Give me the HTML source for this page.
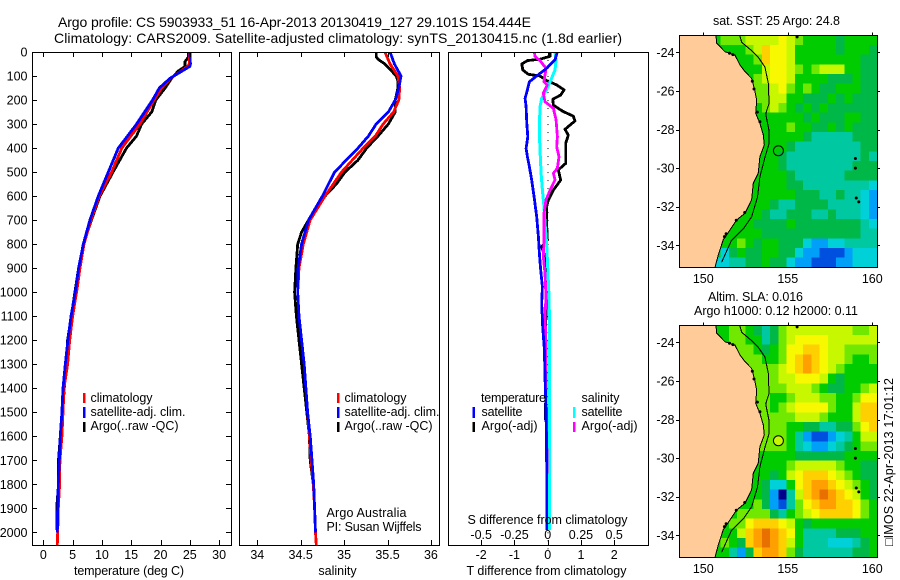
<!DOCTYPE html>
<html>
<head>
<meta charset="utf-8">
<title>Argo profile</title>
<style>
html,body{margin:0;padding:0;background:#fff;}
svg{display:block;font-family:"Liberation Sans",sans-serif;font-size:12.5px;fill:#000;}
</style>
</head>
<body>
<svg id="chart" width="900" height="580" viewBox="0 0 900 580" xmlns="http://www.w3.org/2000/svg">
<defs>
<clipPath id="clip-temp"><rect x="32" y="52" width="199" height="493"/></clipPath>
<clipPath id="clip-sal"><rect x="239" y="52" width="200" height="493"/></clipPath>
<clipPath id="clip-diff"><rect x="448" y="52" width="200" height="493"/></clipPath>
<clipPath id="clip-map1"><rect x="679" y="35" width="198" height="232"/></clipPath>
<clipPath id="clip-map2"><rect x="679" y="325" width="198" height="232"/></clipPath>
</defs>
<text x="58" y="27" font-size="14" textLength="473" lengthAdjust="spacing">Argo profile: CS 5903933_51 16-Apr-2013 20130419_127 29.101S 154.444E</text>
<text x="54" y="43" font-size="14" textLength="568" lengthAdjust="spacing">Climatology: CARS2009. Satellite-adjusted climatology: synTS_20130415.nc (1.8d earlier)</text>
<g id="temp-panel"></g>
<g id="sal-panel"></g>
<g id="diff-panel"></g>
<g id="map1"></g>
<g id="map2"></g>

<text x="129" y="575" text-anchor="middle" textLength="110" lengthAdjust="spacing">temperature (deg C)</text>
<text x="337.5" y="575" text-anchor="middle">salinity</text>
<text x="466.5" y="575" textLength="160" lengthAdjust="spacing">T difference from climatology</text>
<text x="467.5" y="524" textLength="160" lengthAdjust="spacing">S difference from climatology</text>

<g>
<rect x="83" y="393" width="2.5" height="10" fill="#f00"/>
<rect x="83" y="407" width="2.5" height="11" fill="#00f"/>
<rect x="83" y="422" width="2.5" height="10" fill="#000"/>
<text x="90.5" y="402" textLength="62" lengthAdjust="spacing">climatology</text>
<text x="90.5" y="416" textLength="95" lengthAdjust="spacing">satellite-adj. clim.</text>
<text x="90.5" y="430" textLength="88" lengthAdjust="spacing">Argo(..raw -QC)</text>
</g>
<g>
<rect x="337" y="393" width="2.5" height="10" fill="#f00"/>
<rect x="337" y="407" width="2.5" height="11" fill="#00f"/>
<rect x="337" y="422" width="2.5" height="10" fill="#000"/>
<text x="344.5" y="402" textLength="62" lengthAdjust="spacing">climatology</text>
<text x="344.5" y="416" textLength="95" lengthAdjust="spacing">satellite-adj. clim.</text>
<text x="344.5" y="430" textLength="88" lengthAdjust="spacing">Argo(..raw -QC)</text>
<text x="326.5" y="517" textLength="80" lengthAdjust="spacing">Argo Australia</text>
<text x="326.5" y="531" textLength="95" lengthAdjust="spacing">PI: Susan Wijffels</text>
</g>
<g>
<text x="481" y="402" textLength="65" lengthAdjust="spacing">temperature</text>
<rect x="472.5" y="407" width="2.5" height="11" fill="#00f"/>
<rect x="472.5" y="422" width="2.5" height="10" fill="#000"/>
<text x="481.5" y="416" textLength="41" lengthAdjust="spacing">satellite</text>
<text x="481.5" y="430" textLength="56" lengthAdjust="spacing">Argo(-adj)</text>
<text x="581.5" y="402" textLength="38" lengthAdjust="spacing">salinity</text>
<rect x="573" y="407" width="2.5" height="11" fill="#0ff"/>
<rect x="573" y="422" width="2.5" height="10" fill="#f0f"/>
<text x="581.5" y="416" textLength="41" lengthAdjust="spacing">satellite</text>
<text x="581.5" y="430" textLength="56" lengthAdjust="spacing">Argo(-adj)</text>
</g>

<text x="713" y="25" textLength="127" lengthAdjust="spacing">sat. SST: 25 Argo: 24.8</text>
<text x="708" y="301" textLength="95" lengthAdjust="spacing">Altim. SLA: 0.016</text>
<text x="694" y="315" textLength="164" lengthAdjust="spacing">Argo h1000: 0.12 h2000: 0.11</text>
<text transform="translate(893,546) rotate(-90)" textLength="168" lengthAdjust="spacing">&#9633;IMOS 22-Apr-2013 17:01:12</text>
</svg>

<script>
/* ---------- depth profile data ---------- */
const depthTicks = [0,100,200,300,400,500,600,700,800,900,1000,1100,1200,1300,1400,1500,1600,1700,1800,1900,2000];
const tempTicks = [0,5,10,15,20,25,30];
const salTicks = [34,34.5,35,35.5,36];
const salTickLabels = ['34','34.5','35','35.5','36'];
const tDiffTicks = [-2,-1,0,1,2];
const sDiffTicks = [-0.5,-0.25,0,0.25,0.5];
const sDiffTickLabels = ['-0.5','-0.25','0','0.25','0.5'];

const tempClimDepth = [0,50,60,80,110,150,200,300,400,500,600,700,800,900,1000,1100,1200,1300,1400,1500,1600,1700,1800,1900,2000,2053];
const tempClim = [24.9,24.9,24.6,23.5,21.7,20.2,18.9,16.5,13.4,11.66,9.56,8.13,6.94,6.26,5.69,5.0,4.5,4.15,3.53,3.36,3.18,2.84,2.79,2.56,2.45,2.39];
const tempSatDepth = [0,50,60,110,150,200,300,400,500,600,700,800,900,1000,1100,1200,1300,1400,1500,1600,1700,1800,1900,2000];
const tempSat = [25.03,25.1,25.0,21.6,19.8,18.66,15.93,12.8,11.09,9.39,7.96,6.83,6.03,5.46,4.72,4.2,3.75,3.36,3.18,2.9,2.73,2.56,2.45,2.39];
const tempArgoDepth = [0,20,40,60,80,110,150,200,250,300,350,400,500,600,700,800,900,1000,1100,1200,1300,1400,1500,1600,1700,1800,1900,1990];
const tempArgo = [24.8,24.8,24.2,24.2,23.0,21.9,20.8,19.2,18.5,16.8,15.9,14.2,11.9,9.67,8.2,6.83,6.03,5.4,4.78,4.15,3.92,3.58,3.3,2.9,2.6,2.6,2.28,2.28];

const salClimDepth = [0,50,100,150,200,250,300,350,400,500,600,700,800,900,1000,1100,1200,1300,1400,1500,1600,1700,1800,1900,2000,2053];
const salClim = [35.47,35.53,35.62,35.64,35.63,35.57,35.45,35.36,35.22,34.97,34.78,34.61,34.53,34.48,34.465,34.48,34.51,34.54,34.56,34.58,34.6,34.62,34.645,34.66,34.67,34.68];
const salSatDepth = [0,50,100,150,200,250,300,350,400,500,600,700,800,900,1000,1100,1200,1300,1400,1500,1600,1700,1800,1900,2000];
const salSat = [35.53,35.58,35.655,35.63,35.59,35.51,35.37,35.28,35.16,34.89,34.75,34.59,34.51,34.47,34.465,34.48,34.51,34.54,34.56,34.58,34.61,34.63,34.65,34.66,34.67];
const salArgoDepth = [0,20,30,50,80,100,120,150,200,250,300,350,400,450,500,550,600,700,750,800,900,1000,1100,1200,1300,1400,1500,1600,1700,1800,1900,2000];
const salArgo = [35.37,35.37,35.39,35.47,35.55,35.6,35.62,35.62,35.59,35.59,35.51,35.39,35.26,35.16,35.01,34.91,34.78,34.59,34.51,34.465,34.445,34.43,34.45,34.48,34.51,34.54,34.57,34.6,34.61,34.645,34.66,34.67];

const dTSatDepth = [0,33,68,105,124,158,193,228,297,353,401,436,478,533,603,686,769,839,908,977,1047,1144,1241,1352,1449,1588,1727,1866,1991];
const dTSat = [0.29,0.22,-0.03,-0.38,-0.55,-0.61,-0.68,-0.65,-0.63,-0.6,-0.65,-0.61,-0.55,-0.48,-0.41,-0.33,-0.28,-0.25,-0.21,-0.16,-0.18,-0.15,-0.1,-0.08,-0.06,-0.04,-0.03,-0.03,-0.03];
const dTArgoDepth = [0,18,30,36,50,75,93,100,119,137,158,179,197,221,248,267,287,322,346,380,464,491,533,575,616,644,727,783,811,852,922,1005,1102,1158,1241,1324,1449,1533];
const dTArgo = [0.07,0.07,-0.23,-0.61,-0.78,-0.75,-0.58,-0.23,-0.03,0.27,0.49,0.39,0.15,0.17,0.47,0.77,0.82,0.52,0.62,0.54,0.54,0.32,0.39,0.17,0.02,-0.03,-0.03,-0.01,-0.18,-0.08,-0.08,-0.05,-0.05,-0.07,-0.08,-0.05,-0.06,-0.07];
const dSSatDepth = [0,33,75,124,158,193,228,325,408,505,575,644,713,797,894,1019,1102,1449,1588,1991];
const dSSat = [0.055,0.063,0.055,0.018,-0.008,-0.045,-0.058,-0.063,-0.058,-0.05,-0.04,-0.028,-0.02,-0.008,0,0.01,0.0125,0.014,0.013,0.013];
const dSArgoDepth = [0,19,36,68,96,124,137,172,207,235,283,353,394,436,484,505,533,575,616,672,783,852,922,1019,1102,1213,1310,1588,1755];
const dSArgo = [-0.1,-0.095,-0.058,-0.013,-0.02,-0.028,-0.003,-0.033,-0.02,0.043,0.063,0.073,0.068,0.085,0.073,0.043,0.055,0.018,-0.013,-0.028,-0.028,-0.033,-0.02,-0.013,-0.02,-0.013,-0.013,-0.008,-0.003];

/* ---------- map data ---------- */
const lonTicks = [150,155,160];
const latTicks = [-24,-26,-28,-30,-32,-34];
const argoLon = 154.444;
const argoLat = -29.101;
/* cell values: index into the colour ramp, 24 columns by 24 rows, north to south */
const sstRows = [
"666667 778888 987666 656666","666666 6678a9 986666 656665","666666 6667a9 986666 666655","666666 666689 987678 886655",
"666666 666789 986666 555655","666666 666778 976765 566655","666666 666778 866555 656555","666666 666678 765656 555555",
"666666 666666 666565 556655","666666 666666 676655 656555","666666 666666 666544 444555","666666 666666 654444 444455",
"666666 666666 544444 444454","666666 666666 544444 444555","666666 666666 654444 445555","666666 666666 655444 444443",
"666666 666666 665554 454432","666666 666665 445555 444432","666666 666654 455544 544432","666666 666555 565555 555543",
"666666 666655 555555 555544","666666 676566 555322 334444","666663 565566 553221 112333","666633 445565 532211 122333"];
const slaRows = [
"666666 776545 788888 888778","666666 776645 789999 888888","666666 777656 799aa9 887777","666666 777766 79aba9 887667",
"666666 777777 89aba9 876666","666666 777777 889998 656666","666666 777777 788876 556678","666666 777776 678887 766799",
"666666 777776 789999 7668aa","666666 777777 778887 6668aa","666666 777777 766554 45579a","666666 777777 764211 234688",
"666666 777777 764322 345677","666666 666666 665555 556666","666666 666666 678888 876655","666666 666665 689aaa 987655",
"666666 666653 369abb a98765","666666 666652 048abc ba9865","666666 666752 1479ab baa976","666666 677775 46789a aaa976",
"666666 779aaa 986566 666666","666666 68abcb a96444 455566","666667 65abcb a86444 333456","666666 425abb a75444 444556"];
const coastLon = [150.75,150.79,151.28,151.87,152.17,152.47,152.86,153.02,153.16,153.1,153.35,153.55,153.61,153.35,153.25,152.96,152.86,152.47,151.97,151.58,151.18,150.89,150.69];
const coastLat = [-23.14,-23.53,-23.97,-24.14,-24.66,-25.0,-25.35,-25.87,-26.47,-27.16,-27.68,-28.28,-28.8,-29.41,-30.27,-30.79,-31.65,-32.34,-32.69,-33.2,-33.72,-34.5,-35.14];
const shelfLon = [152.13,152.27,152.86,153.25,153.65,153.85,153.89,153.69,153.89,153.89,153.65,153.35,153.21,152.86,152.37,151.67,151.08];
const shelfLat = [-23.05,-23.48,-23.91,-24.25,-24.77,-25.63,-26.67,-27.19,-28.05,-28.74,-29.43,-30.46,-31.5,-32.53,-33.14,-33.74,-34.88];
const islandLon = [155.55,159.0,159.0,159.05,159.2,151.55,151.75,152.9,153.0,152.45,151.95,151.25,151.35,153.35,153.2];
const islandLat = [-23.2,-29.5,-30.0,-31.55,-31.75,-24.05,-24.12,-25.5,-25.9,-32.3,-32.7,-33.55,-33.4,-27.6,-27.1];

const rampColors = {'0':'#00008c','1':'#0050e0','2':'#00a0f8','3':'#00d0d8','4':'#00c8a0','5':'#00b848','6':'#00cc00','7':'#70e800','8':'#c8f800','9':'#f8f800','a':'#ffd000','b':'#ffa000','c':'#e87000'};

/* ---------- axis functions ---------- */
const SVGNS = 'http://www.w3.org/2000/svg';
function el(tag, parent, attrs){
  const n = document.createElementNS(SVGNS, tag);
  for(const k in attrs) n.setAttribute(k, attrs[k]);
  parent.appendChild(n);
  return n;
}
const yDepth = d => 52 + d * 0.24015;
const xTemp = t => 43.3 + t * 5.86;
const xSal = s => 257.3 + (s - 34) * 86.8;
const xDT = t => 547.7 + t * 33.25;
const xDS = s => 547.7 + s * 133;
const xLon = lon => 703.3 + (lon - 150) * 16.9;
const yLatTop = lat => 52.3 + (-24 - lat) * 19.3;
const yLatBot = lat => 342.3 + (-24 - lat) * 19.3;

function drawSeries(parent, clip, xFn, depth, vals, color, width){
  let d = '';
  for(let i = 0; i < vals.length; i++) d += (i ? 'L' : 'M') + xFn(vals[i]).toFixed(1) + ' ' + yDepth(depth[i]).toFixed(1);
  return el('path', parent, {d: d, fill: 'none', stroke: color, 'stroke-width': width, 'clip-path': 'url(#' + clip + ')', 'stroke-linejoin': 'round', 'shape-rendering': 'crispEdges'});
}

function drawFrame(parent, x, y, w, h){
  return el('rect', parent, {x: x + 0.5, y: y + 0.5, width: w, height: h, fill: 'none', stroke: '#000', 'stroke-width': 1});
}
function vTick(parent, x, y1, y2){
  const X = Math.round(x) + 0.5;
  return el('line', parent, {x1: X, x2: X, y1: y1, y2: y2, stroke: '#000', 'stroke-width': 1});
}
function hTick(parent, y, x1, x2){
  const Y = Math.round(y) + 0.5;
  return el('line', parent, {x1: x1, x2: x2, y1: Y, y2: Y, stroke: '#000', 'stroke-width': 1});
}
function label(parent, x, y, str, anchor){
  const t = el('text', parent, {x: x, y: y, 'text-anchor': anchor});
  t.textContent = str;
  return t;
}

/* ---------- temperature panel ---------- */
const tempG = document.getElementById('temp-panel');
const tempArgoLine = drawSeries(tempG, 'clip-temp', xTemp, tempArgoDepth, tempArgo, '#000', 2.8);


const tempClimLine = drawSeries(tempG, 'clip-temp', xTemp, tempClimDepth, tempClim, '#f00', 2.8);


const tempSatLine = drawSeries(tempG, 'clip-temp', xTemp, tempSatDepth, tempSat, '#00f', 2.8);


const tempFrame = drawFrame(tempG, 32, 52, 199, 493);


depthTicks.forEach(d => {
  const l = hTick(tempG, yDepth(d), 32, 37);
  
  
  const r = hTick(tempG, yDepth(d), 226, 231);
  
  
  const t = label(tempG, 27.5, yDepth(d) + 4.5, String(d), 'end');
  
  
});
tempTicks.forEach(v => {
  const a = vTick(tempG, xTemp(v), 52, 57);
  
  
  const b = vTick(tempG, xTemp(v), 540, 545);
  
  
  const t = label(tempG, xTemp(v), 559, String(v), 'middle');
  
  
});

/* ---------- salinity panel ---------- */
const salG = document.getElementById('sal-panel');
const salArgoLine = drawSeries(salG, 'clip-sal', xSal, salArgoDepth, salArgo, '#000', 2.8);


const salClimLine = drawSeries(salG, 'clip-sal', xSal, salClimDepth, salClim, '#f00', 2.8);


const salSatLine = drawSeries(salG, 'clip-sal', xSal, salSatDepth, salSat, '#00f', 2.8);


const salFrame = drawFrame(salG, 239, 52, 200, 493);


salTicks.forEach((v, i) => {
  const a = vTick(salG, xSal(v), 52, 57);
  
  
  const b = vTick(salG, xSal(v), 540, 545);
  
  
  const t = label(salG, xSal(v), 559, salTickLabels[i], 'middle');
  
  
});

/* ---------- difference panel ---------- */
const diffG = document.getElementById('diff-panel');
depthTicks.forEach(d => {
  const dot = el('rect', diffG, {x: 547.5, y: yDepth(d), width: 1, height: 1, fill: '#000'});
  
  
  const dot2 = el('rect', diffG, {x: 547.5, y: yDepth(d) + 8, width: 1, height: 1, fill: '#000'});
  
  
  const dot3 = el('rect', diffG, {x: 547.5, y: yDepth(d) + 16, width: 1, height: 1, fill: '#000'});
  
  
});
const dTArgoLine = drawSeries(diffG, 'clip-diff', xDT, dTArgoDepth, dTArgo, '#000', 2.8);


const dSSatLine = drawSeries(diffG, 'clip-diff', xDS, dSSatDepth, dSSat, '#0ff', 3);


const dSArgoLine = drawSeries(diffG, 'clip-diff', xDS, dSArgoDepth, dSArgo, '#f0f', 2.8);


const dTSatLine = drawSeries(diffG, 'clip-diff', xDT, dTSatDepth, dTSat, '#00f', 2.8);


const diffFrame = drawFrame(diffG, 448, 52, 200, 493);


tDiffTicks.forEach(v => {
  const a = vTick(diffG, xDT(v), 52, 57);
  
  
  const b = vTick(diffG, xDT(v), 540, 545);
  
  
  const t = label(diffG, xDT(v), 559, String(v), 'middle');
  
  
});
sDiffTicks.forEach((v, i) => {
  const t = label(diffG, xDS(v), 539, sDiffTickLabels[i], 'middle');
  
  
});

/* ---------- maps ---------- */
function linePath(lons, lats, yFn){
  let d = '';
  for(let i = 0; i < lons.length; i++) d += (i ? 'L' : 'M') + xLon(lons[i]).toFixed(1) + ' ' + yFn(lats[i]).toFixed(1);
  return d;
}
function drawMap(parentId, rows, yLat, clip, top, circleFill){
  const g = document.getElementById(parentId);
  const lonStart = 148.58, lonStep = 0.488, latStart = -23.12, latStep = 0.501;
  rows.forEach((row, r) => {
    const vals = row.replace(/ /g, '');
    for(let c = 0; c < vals.length; c++){
      const x0 = xLon(lonStart + c * lonStep), x1 = xLon(lonStart + (c + 1) * lonStep);
      const y0 = yLat(latStart - r * latStep), y1 = yLat(latStart - (r + 1) * latStep);
      const cell = el('rect', g, {x: x0.toFixed(2), y: y0.toFixed(2), width: (x1 - x0 + 0.3).toFixed(2), height: (y1 - y0 + 0.3).toFixed(2), fill: rampColors[vals[c]], 'clip-path': 'url(#' + clip + ')', 'shape-rendering': 'crispEdges'});
      
      
    }
  });
  const land = el('path', g, {d: linePath(coastLon, coastLat, yLat) + 'L' + xLon(148) + ' ' + yLat(-35.14) + 'L' + xLon(148) + ' ' + yLat(-23.14) + 'Z', fill: '#ffcc99', 'clip-path': 'url(#' + clip + ')'});
  
  
  const coast = el('path', g, {d: linePath(coastLon, coastLat, yLat), fill: 'none', stroke: '#000', 'stroke-width': 1, 'clip-path': 'url(#' + clip + ')', 'shape-rendering': 'crispEdges'});
  
  
  const shelf = el('path', g, {d: linePath(shelfLon, shelfLat, yLat), fill: 'none', stroke: '#000', 'stroke-width': 1, 'clip-path': 'url(#' + clip + ')', 'shape-rendering': 'crispEdges'});
  
  
  islandLon.forEach((lon, i) => {
    const dot = el('circle', g, {cx: xLon(lon), cy: yLat(islandLat[i]), r: 1.5, fill: '#000', 'clip-path': 'url(#' + clip + ')'});
    
    
  });
  const circ = el('circle', g, {cx: xLon(argoLon), cy: yLat(argoLat), r: 5, fill: circleFill, stroke: '#000', 'stroke-width': 1});
  
  
  const frame = drawFrame(g, 679, top, 198, 232);
  
  
  lonTicks.forEach(v => {
    const a = vTick(g, xLon(v), top - 2.5, top);
    
    
    const t = label(g, xLon(v), top + 248, String(v), 'middle');
    
    
  });
  latTicks.forEach(v => {
    const a = hTick(g, yLat(v), 676, 679);
    
    
    const b = hTick(g, yLat(v), 877, 880);
    
    
    const t = label(g, 674.5, yLat(v) + 4.5, String(v), 'end');
    
    
  });
}
drawMap('map1', sstRows, yLatTop, 'clip-map1', 35, 'none');
drawMap('map2', slaRows, yLatBot, 'clip-map2', 325, '#c8f800');
</script>
</body>
</html>
